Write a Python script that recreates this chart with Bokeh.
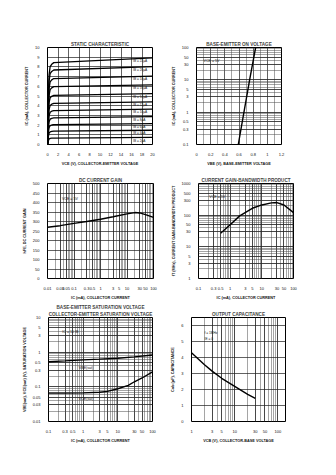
from bokeh.plotting import figure
from bokeh.layouts import column, row
from bokeh.models import Range1d, FixedTicker, Label, Title
from bokeh.embed import file_html
from bokeh.resources import INLINE

FONT = "Liberation Sans"

# ---------------- data ----------------
# 1. Static characteristic
static_vce = [0, 0.15, 0.3, 0.5, 0.8, 1.2, 20]
static_ib_labels = ["IB = 2µA", "IB = 4µA", "IB = 6µA", "IB = 8µA", "IB = 10µA",
                    "IB = 12µA", "IB = 14µA", "IB = 16µA", "IB = 18µA", "IB = 20µA", "IB = 22µA"]
static_ic = [
    [0, 0.36, 0.56, 0.63, 0.65, 0.66, 0.73],
    [0, 0.76, 1.17, 1.31, 1.35, 1.38, 1.47],
    [0, 1.13, 1.74, 1.95, 2.01, 2.05, 2.15],
    [0, 1.51, 2.34, 2.61, 2.70, 2.75, 2.88],
    [0, 1.93, 2.98, 3.33, 3.43, 3.50, 3.65],
    [0, 2.33, 3.60, 4.03, 4.16, 4.24, 4.40],
    [0, 2.79, 4.31, 4.82, 4.97, 5.07, 5.25],
    [0, 3.28, 5.07, 5.66, 5.84, 5.96, 6.15],
    [0, 3.74, 5.78, 6.46, 6.66, 6.80, 7.05],
    [0, 4.22, 6.53, 7.30, 7.53, 7.68, 8.02],
    [0, 4.64, 7.17, 8.02, 8.27, 8.44, 8.94],
]
static_xticks = [0, 2, 4, 6, 8, 10, 12, 14, 16, 18, 20]
static_yticks = [0, 1, 2, 3, 4, 5, 6, 7, 8, 9, 10]

# 2. Base-emitter on voltage
beon_ic = [0.1, 1, 10, 100]
beon_vbe = [0.59, 0.67, 0.75, 0.835]
beon_xticks = [0, 0.2, 0.4, 0.6, 0.8, 1, 1.2]
beon_xlabels = ["0", "0.2", "0.4", "0.6", "0.8", "1.0", "1.2"]
beon_yticks = [0.1, 0.3, 0.5, 1, 3, 5, 10, 30, 50, 100]
beon_ylabels = ["0.1", "0.3", "0.5", "1", "3", "5", "10", "30", "50", "100"]

# 3. DC current gain
hfe_ic = [0.01, 0.03, 0.1, 0.3, 1, 3, 10, 20, 30, 50, 100]
hfe_val = [270, 278, 290, 300, 312, 325, 340, 347, 345, 336, 322]
hfe_xticks = [0.01, 0.03, 0.05, 0.1, 0.3, 0.5, 1, 3, 5, 10, 30, 50, 100]
hfe_xlabels = ["0.01", "0.03", "0.05", "0.1", "0.3", "0.5", "1", "3", "5", "10", "30", "50", "100"]
hfe_yticks = [0, 50, 100, 150, 200, 250, 300, 350, 400, 450, 500]

# 4. Current gain-bandwidth product
ft_ic = [0.5, 1, 2, 5, 10, 20, 30, 50, 100]
ft_val = [27, 50, 95, 165, 210, 245, 250, 210, 120]
ft_xticks = [0.1, 0.3, 0.5, 1, 3, 5, 10, 30, 50, 100]
ft_xlabels = ["0.1", "0.3", "0.5", "1", "3", "5", "10", "30", "50", "100"]
ft_yticks = [1, 3, 5, 10, 30, 50, 100, 300, 500, 1000]
ft_ylabels = ["1", "3", "5", "10", "30", "50", "100", "300", "500", "1000"]

# 5. Saturation voltages
sat_ic_be = [0.1, 0.3, 1, 3, 10, 30, 100]
sat_vbe = [0.53, 0.56, 0.60, 0.63, 0.67, 0.73, 0.83]
sat_ic_ce = [0.1, 0.3, 1, 3, 5, 10, 20, 30, 50, 100]
sat_vce = [0.066, 0.066, 0.067, 0.070, 0.074, 0.088, 0.11, 0.14, 0.18, 0.27]
sat_xticks = [0.1, 0.3, 0.5, 1, 3, 5, 10, 30, 50, 100]
sat_xlabels = ["0.1", "0.3", "0.5", "1", "3", "5", "10", "30", "50", "100"]
sat_yticks = [0.01, 0.03, 0.05, 0.1, 0.3, 0.5, 1, 3, 5, 10]
sat_ylabels = ["0.01", "0.03", "0.05", "0.1", "0.3", "0.5", "1", "3", "5", "10"]

# 6. Output capacitance
cob_vcb = [1, 2, 3, 5, 10, 20, 30]
cob_val = [4.3, 3.55, 3.15, 2.7, 2.2, 1.7, 1.45]
cob_xticks = [1, 3, 5, 10, 30, 50, 100]
cob_xlabels = ["1", "3", "5", "10", "30", "50", "100"]
cob_yticks = [0, 1, 2, 3, 4, 5, 6]


# ---------------- helpers ----------------
def log_minors(lo_exp, hi_exp):
    out = []
    for e in range(lo_exp, hi_exp + 1):
        for m in range(1, 10):
            out.append(m * 10.0 ** e)
    return out


def make_fig(w, h, l, r, t, b, xr, yr, xtype="linear", ytype="linear"):
    p = figure(width=w, height=h, x_range=xr, y_range=yr,
               x_axis_type=xtype, y_axis_type=ytype,
               output_backend="svg", toolbar_location=None,
               min_border_left=l, min_border_right=r,
               min_border_top=t, min_border_bottom=b)
    p.background_fill_color = "white"
    p.border_fill_color = "white"
    p.outline_line_color = "black"
    p.outline_line_width = 1
    return p


def style(p, title, xlabel, ylabel, xticks, yticks, xlabels=None, ylabels=None,
          xminor=None, yminor=None):
    p.title.text = title
    p.title.text_font = FONT
    p.title.text_font_size = "4.6px"
    p.title.text_font_style = "bold"
    p.title.align = "center"
    p.title.standoff = 2
    xt = FixedTicker(ticks=xticks, minor_ticks=xminor or [])
    yt = FixedTicker(ticks=yticks, minor_ticks=yminor or [])
    p.xaxis.ticker = xt
    p.yaxis.ticker = yt
    p.xgrid.ticker = xt
    p.ygrid.ticker = yt
    if xlabels:
        p.xaxis.major_label_overrides = {str(k): v for k, v in zip(xticks, xlabels)}
    if ylabels:
        p.yaxis.major_label_overrides = {str(k): v for k, v in zip(yticks, ylabels)}
    p.xaxis.axis_label = xlabel
    p.yaxis.axis_label = ylabel
    for ax in (p.xaxis, p.yaxis):
        ax.axis_line_color = None
        ax.major_tick_line_color = None
        ax.minor_tick_line_color = None
        ax.major_label_text_font = FONT
        ax.major_label_text_font_size = "4px"
        ax.major_label_text_color = "#111111"
        ax.major_label_standoff = 2
        ax.axis_label_text_font = FONT
        ax.axis_label_text_font_size = "3.8px"
        ax.axis_label_text_font_style = "bold"
        ax.axis_label_text_color = "#111111"
        ax.axis_label_standoff = 3
    for g in (p.xgrid, p.ygrid):
        g.grid_line_color = "#1e1e1e"
        g.grid_line_width = 0.7
        g.minor_grid_line_color = "#4a4a4a"
        g.minor_grid_line_width = 0.5


def note(p, x, y, text, size="3.6px"):
    p.add_layout(Label(x=x, y=y, text=text, text_font=FONT, text_font_size=size,
                       text_color="#111111", text_baseline="middle"))


# ---------------- chart 1 ----------------
f1 = make_fig(168, 168, 47, 16, 47, 18, Range1d(0, 20), Range1d(0, 10))
style(f1, "STATIC CHARACTERISTIC", "VCE (V), COLLECTOR-EMITTER VOLTAGE",
      "IC (mA), COLLECTOR CURRENT", static_xticks, static_yticks)
for ic, lab in zip(static_ic, static_ib_labels):
    f1.line(static_vce, ic, line_color="black", line_width=1.3)
    f1.add_layout(Label(x=16.3, y=ic[-1] - 0.12, text=lab, text_font=FONT,
                        text_font_size="3.2px", text_color="#111111",
                        text_baseline="top"))

# ---------------- chart 2 ----------------
f2 = make_fig(168, 168, 23, 55, 47, 20, Range1d(0, 1.2), Range1d(0.1, 100), ytype="log")
style(f2, "BASE-EMITTER ON VOLTAGE", "VBE (V), BASE-EMITTER VOLTAGE",
      "IC (mA), COLLECTOR CURRENT", beon_xticks, beon_yticks, beon_xlabels, beon_ylabels,
      xminor=[0.1, 0.3, 0.5, 0.7, 0.9, 1.1], yminor=log_minors(-1, 2))
f2.line(beon_vbe, beon_ic, line_color="black", line_width=1.4)
note(f2, 0.1, 38, "VCE = 5V")

# ---------------- chart 3 ----------------
f3 = make_fig(168, 134, 47, 15, 15, 17, Range1d(0.01, 100), Range1d(0, 500), xtype="log")
style(f3, "DC CURRENT GAIN", "IC (mA), COLLECTOR CURRENT", "hFE, DC CURRENT GAIN",
      hfe_xticks, hfe_yticks, hfe_xlabels, None, xminor=log_minors(-2, 2))
f3.line(hfe_ic, hfe_val, line_color="black", line_width=1.4)
note(f3, 0.035, 420, "VCE = 5V")

# ---------------- chart 4 ----------------
f4 = make_fig(168, 134, 19, 43, 14, 17, Range1d(0.1, 100), Range1d(1, 1000),
              xtype="log", ytype="log")
style(f4, "CURRENT GAIN-BANDWIDTH PRODUCT", "IC (mA), COLLECTOR CURRENT",
      "fT (MHz), CURRENT GAIN-BANDWIDTH PRODUCT", ft_xticks, ft_yticks,
      ft_xlabels, ft_ylabels, xminor=log_minors(-1, 2), yminor=log_minors(0, 3))
f4.line(ft_ic, ft_val, line_color="black", line_width=1.4)
note(f4, 0.22, 380, "VCE = 5V")

# ---------------- chart 5 ----------------
f5 = make_fig(168, 173, 48, 16, 14, 53, Range1d(0.1, 100), Range1d(0.01, 10),
              xtype="log", ytype="log")
style(f5, "BASE-EMITTER SATURATION VOLTAGE", "IC (mA), COLLECTOR CURRENT",
      "VBE(sat), VCE(sat) (V), SATURATION VOLTAGE", sat_xticks, sat_yticks,
      sat_xlabels, sat_ylabels, xminor=log_minors(-1, 2), yminor=log_minors(-2, 1))
f5.title.standoff = 0
f5.add_layout(Title(text="COLLECTOR-EMITTER SATURATION VOLTAGE", text_font=FONT,
                    text_font_size="4.6px", text_font_style="bold", align="center",
                    standoff=1), "above")
f5.line(sat_ic_be, sat_vbe, line_color="black", line_width=1.4)
f5.line(sat_ic_ce, sat_vce, line_color="black", line_width=1.4)
note(f5, 0.25, 3.9, "IC = 10 IB")
note(f5, 0.75, 0.36, "VBE(sat)")
note(f5, 0.75, 0.045, "VCE(sat)")

# ---------------- chart 6 ----------------
f6 = make_fig(168, 173, 18, 51, 15, 54, Range1d(1, 150), Range1d(0, 6.5), xtype="log")
style(f6, "OUTPUT CAPACITANCE", "VCB (V), COLLECTOR-BASE VOLTAGE", "Cob (pF), CAPACITANCE",
      cob_xticks, cob_yticks, cob_xlabels, None, xminor=log_minors(0, 2))
f6.line(cob_vcb, cob_val, line_color="black", line_width=1.4)
note(f6, 2.0, 5.55, "f = 1MHz", "3.2px")
note(f6, 2.0, 5.2, "IE = 0", "3.2px")

layout = column(row(f1, f2), row(f3, f4), row(f5, f6))
open("out.html", "w").write(file_html(layout, INLINE))
